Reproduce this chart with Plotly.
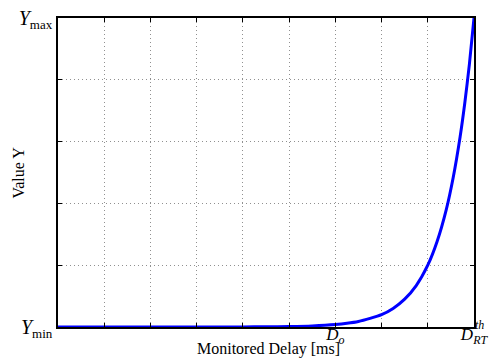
import plotly.graph_objects as go

# Data (x in grid units, y in grid units 0..5)
delay = [0, 1, 2, 3, 4, 4.5, 5, 5.5, 6, 6.25, 6.5, 6.75, 7, 7.25, 7.5, 7.75,
         8, 8.2, 8.4, 8.55, 8.7, 8.8, 8.9, 9]
value = [0, 0, 0.0005, 0.001, 0.002, 0.004, 0.008, 0.018, 0.04, 0.06, 0.09,
         0.14, 0.2, 0.3, 0.45, 0.67, 1.0, 1.38, 1.9, 2.42, 3.08, 3.62, 4.25, 5.0]

x_ticks = [0, 1, 2, 3, 4, 5, 6, 7, 8, 9]
x_ticktext = ["", "", "", "", "", "",
              "<i>D</i><sub><i><span style='font-size:12px'>o</span></i></sub>", "", "",
              "<i>D</i><sub><i><span style='font-size:12px'>RT</span></i></sub>"]
y_ticks = [0, 1, 2, 3, 4, 5]
y_ticktext = ["<i>Y</i><sub><span style='font-size:13px'>min</span></sub>", "", "", "", "",
              "<i>Y</i><sub><span style='font-size:13px'>max</span></sub>"]

FAM = "Liberation Serif"
font = dict(family=FAM, color="black")

fig = go.Figure()
fig.add_trace(go.Scatter(x=delay, y=value, mode="lines",
                         line=dict(color="#0000ff", width=3, shape="spline", smoothing=0.6),
                         showlegend=False, cliponaxis=False))

fig.update_layout(
    width=491, height=359,
    margin=dict(l=58, r=17, t=18, b=32),
    paper_bgcolor="white", plot_bgcolor="white",
    font=dict(size=16, **font),
)
fig.update_xaxes(
    range=[0, 9], tickvals=x_ticks, ticktext=x_ticktext,
    ticks="inside", ticklen=4, tickcolor="black", tickwidth=1,
    showline=True, linecolor="black", linewidth=1.5, mirror="ticks",
    showgrid=True, gridcolor="#909090", griddash="1px,3px", gridwidth=1,
    zeroline=False, tickfont=dict(size=17, **font), automargin=False,
    ticklabelstandoff=-9,
)
fig.update_yaxes(
    range=[0, 5], tickvals=y_ticks, ticktext=y_ticktext,
    ticks="inside", ticklen=4, tickcolor="black", tickwidth=1,
    showline=True, linecolor="black", linewidth=1.5, mirror="ticks",
    showgrid=True, gridcolor="#909090", griddash="1px,3px", gridwidth=1,
    zeroline=False, tickfont=dict(size=20, **font), automargin=False,
)
# superscript of the D_RT^th tick label
fig.add_annotation(x=9, y=0, xref="x", yref="y", text="<i>th</i>", showarrow=False,
                   font=dict(size=12, **font), xanchor="left", yanchor="bottom",
                   xshift=-1, yshift=-7)
# axis titles
fig.add_annotation(x=0.505, y=-0.071, xref="paper", yref="paper",
                   text="Monitored Delay [ms]", showarrow=False,
                   font=dict(size=16, **font), xanchor="center", yanchor="middle")
fig.add_annotation(x=-0.096, y=0.5, xref="paper", yref="paper",
                   text="Value Y", textangle=-90, showarrow=False,
                   font=dict(size=16, **font), xanchor="center", yanchor="middle")
fig.write_html("out.html")
